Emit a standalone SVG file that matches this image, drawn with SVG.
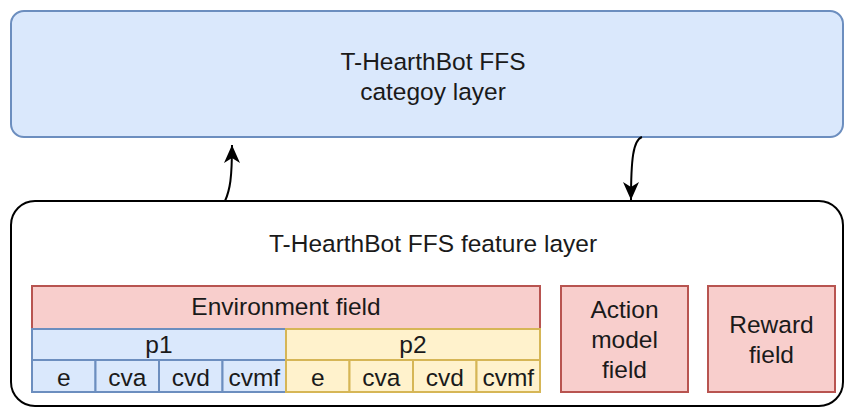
<svg xmlns="http://www.w3.org/2000/svg" width="845" height="408" viewBox="0 0 845 408">
  <style>
    text { font-family: "Liberation Sans", Arial, sans-serif; font-size: 24.5px; fill: #1a1a1a; text-anchor: middle; }
    .blue { fill: #dae8fc; stroke: #6c8ebf; stroke-width: 2; }
    .red { fill: #f8cecc; stroke: #b85450; stroke-width: 2; }
    .yellow { fill: #fff2cc; stroke: #d6b656; stroke-width: 2; }
    .edge { fill: none; stroke: #000; stroke-width: 2; }
  </style>
  <defs>
    <marker id="arrow" viewBox="0 0 20 16" markerWidth="20" markerHeight="16" refX="18" refY="8" orient="auto" markerUnits="userSpaceOnUse">
      <path d="M0,0 L18,8 L0,16 L5,8 Z" fill="#000"/>
    </marker>
  </defs>

  <g id="category-layer">
    <rect x="11" y="11" width="832" height="126" rx="13" ry="13" class="blue"/>
    <text x="433" y="70">T-HearthBot FFS</text>
    <text x="433" y="100">categoy layer</text>
  </g>

  <g id="feature-layer">
    <rect x="11" y="201" width="832" height="205" rx="24" ry="24" fill="#ffffff" stroke="#000" stroke-width="2"/>
    <text x="433" y="252">T-HearthBot FFS feature layer</text>
  </g>

  <g id="environment-field">
    <rect x="32" y="286" width="508" height="43" class="red"/>
    <text x="286" y="315">Environment field</text>
  </g>

  <g id="p1">
    <rect x="32" y="329" width="254" height="31" class="blue"/>
    <text x="159" y="353">p1</text>
    <rect x="32" y="360" width="63.5" height="32" class="blue"/>
    <rect x="95.5" y="360" width="63.5" height="32" class="blue"/>
    <rect x="159" y="360" width="63.5" height="32" class="blue"/>
    <rect x="222.5" y="360" width="63.5" height="32" class="blue"/>
    <text x="63.75" y="386">e</text>
    <text x="127.25" y="386">cva</text>
    <text x="190.75" y="386">cvd</text>
    <text x="254.25" y="386">cvmf</text>
  </g>

  <g id="p2">
    <rect x="286" y="329" width="254" height="31" class="yellow"/>
    <text x="413" y="353">p2</text>
    <rect x="286" y="360" width="63.5" height="32" class="yellow"/>
    <rect x="349.5" y="360" width="63.5" height="32" class="yellow"/>
    <rect x="413" y="360" width="63.5" height="32" class="yellow"/>
    <rect x="476.5" y="360" width="63.5" height="32" class="yellow"/>
    <text x="317.75" y="386">e</text>
    <text x="381.25" y="386">cva</text>
    <text x="444.75" y="386">cvd</text>
    <text x="508.25" y="386">cvmf</text>
  </g>

  <g id="action-model-field">
    <rect x="561" y="286" width="127" height="106" class="red"/>
    <text x="624.5" y="318">Action</text>
    <text x="624.5" y="348">model</text>
    <text x="624.5" y="378">field</text>
  </g>

  <g id="reward-field">
    <rect x="708" y="286" width="127" height="106" class="red"/>
    <text x="771.5" y="333">Reward</text>
    <text x="771.5" y="363">field</text>
  </g>

  <g id="connectors">
    <path d="M225,201 C230,190 232,178 232,145" class="edge" marker-end="url(#arrow)"/>
    <path d="M642,137 C633,140 631,160 631,200" class="edge" marker-end="url(#arrow)"/>
  </g>
</svg>
